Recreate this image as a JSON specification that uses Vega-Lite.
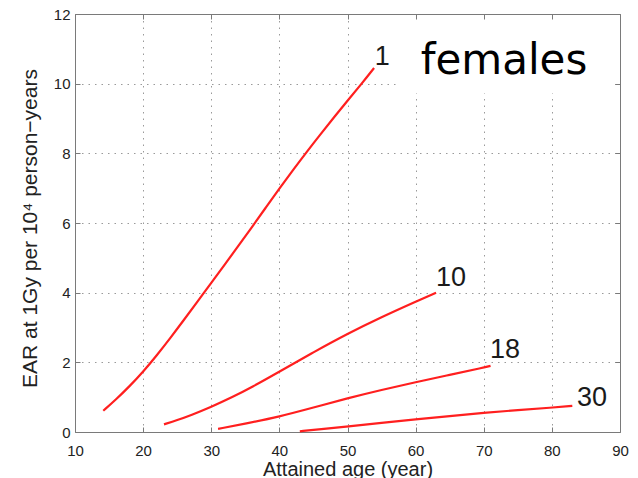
{
  "$schema": "https://vega.github.io/schema/vega-lite/v6.json",
  "width": 545,
  "height": 418,
  "autosize": {"type": "none"},
  "padding": {"left": 75, "top": 14, "right": 18, "bottom": 46},
  "background": "white",
  "config": {
    "view": {"stroke": null},
    "font": "Liberation Sans"
  },
  "datasets": {
    "curves": [
      {"exposure": "1", "age": 14.15, "ear": 0.61},
      {"exposure": "1", "age": 16, "ear": 0.93},
      {"exposure": "1", "age": 18, "ear": 1.31},
      {"exposure": "1", "age": 20, "ear": 1.73},
      {"exposure": "1", "age": 22, "ear": 2.2},
      {"exposure": "1", "age": 24, "ear": 2.7},
      {"exposure": "1", "age": 26, "ear": 3.22},
      {"exposure": "1", "age": 28, "ear": 3.75},
      {"exposure": "1", "age": 30, "ear": 4.28},
      {"exposure": "1", "age": 32, "ear": 4.81},
      {"exposure": "1", "age": 34, "ear": 5.35},
      {"exposure": "1", "age": 36, "ear": 5.89},
      {"exposure": "1", "age": 38, "ear": 6.44},
      {"exposure": "1", "age": 40, "ear": 6.99},
      {"exposure": "1", "age": 42, "ear": 7.52},
      {"exposure": "1", "age": 44, "ear": 8.04},
      {"exposure": "1", "age": 46, "ear": 8.54},
      {"exposure": "1", "age": 48, "ear": 9.03},
      {"exposure": "1", "age": 50, "ear": 9.51},
      {"exposure": "1", "age": 52, "ear": 9.98},
      {"exposure": "1", "age": 53.9, "ear": 10.45},
      {"exposure": "10", "age": 23.06, "ear": 0.22},
      {"exposure": "10", "age": 25, "ear": 0.34},
      {"exposure": "10", "age": 27, "ear": 0.48},
      {"exposure": "10", "age": 30, "ear": 0.72},
      {"exposure": "10", "age": 33, "ear": 0.99},
      {"exposure": "10", "age": 36, "ear": 1.29},
      {"exposure": "10", "age": 40, "ear": 1.73},
      {"exposure": "10", "age": 45, "ear": 2.29},
      {"exposure": "10", "age": 50, "ear": 2.82},
      {"exposure": "10", "age": 55, "ear": 3.3},
      {"exposure": "10", "age": 60, "ear": 3.74},
      {"exposure": "10", "age": 63, "ear": 4.0},
      {"exposure": "18", "age": 31.0, "ear": 0.09},
      {"exposure": "18", "age": 35, "ear": 0.24},
      {"exposure": "18", "age": 40, "ear": 0.44},
      {"exposure": "18", "age": 45, "ear": 0.7},
      {"exposure": "18", "age": 50, "ear": 0.97},
      {"exposure": "18", "age": 55, "ear": 1.21},
      {"exposure": "18", "age": 60, "ear": 1.43},
      {"exposure": "18", "age": 65, "ear": 1.64},
      {"exposure": "18", "age": 70, "ear": 1.85},
      {"exposure": "18", "age": 71, "ear": 1.9},
      {"exposure": "30", "age": 43, "ear": 0.02},
      {"exposure": "30", "age": 46, "ear": 0.08},
      {"exposure": "30", "age": 50, "ear": 0.16},
      {"exposure": "30", "age": 55, "ear": 0.26},
      {"exposure": "30", "age": 60, "ear": 0.36},
      {"exposure": "30", "age": 65, "ear": 0.46},
      {"exposure": "30", "age": 70, "ear": 0.55},
      {"exposure": "30", "age": 75, "ear": 0.63},
      {"exposure": "30", "age": 80, "ear": 0.7},
      {"exposure": "30", "age": 83, "ear": 0.75}
    ],
    "labels": [
      {"label": "1", "x": 54.0, "y": 10.55},
      {"label": "10", "x": 63.0, "y": 4.2},
      {"label": "18", "x": 70.9, "y": 2.12},
      {"label": "30", "x": 83.7, "y": 0.75}
    ],
    "panel": [
      {"x1": 57.2, "x2": 88.9, "y1": 9.72, "y2": 11.97, "text": "females", "tx": 72.97, "ty": 10.28}
    ]
  },
  "layer": [
    {
      "data": {"name": "curves"},
      "mark": {"type": "line", "color": "#ff1f1f", "strokeWidth": 2.2, "interpolate": "basis"},
      "encoding": {
        "x": {
          "field": "age", "type": "quantitative",
          "scale": {"domain": [10, 90], "nice": false, "zero": false},
          "axis": {
            "orient": "bottom", "title": "Attained age (year)",
            "values": [10, 20, 30, 40, 50, 60, 70, 80, 90],
            "grid": true, "gridColor": "#9a9a9a", "gridDash": [1.5, 5], "gridWidth": 1,
            "tickSize": -5, "tickColor": "#7a7a7a", "domainColor": "#7a7a7a",
            "labelPadding": 28, "labelBaseline": "alphabetic", "labelFlush": false, "labelOverlap": false,
            "labelFontSize": 15, "labelColor": "#222222",
            "titleFontSize": 20, "titleColor": "#222222", "titleFontWeight": "normal",
            "titleBaseline": "alphabetic", "titleY": 43, "zindex": 0
          }
        },
        "y": {
          "field": "ear", "type": "quantitative",
          "scale": {"domain": [0, 12], "nice": false},
          "axis": {
            "orient": "left", "title": "EAR at 1Gy per 10⁴ person−years",
            "values": [0, 2, 4, 6, 8, 10, 12],
            "grid": true, "gridColor": "#9a9a9a", "gridDash": [1.5, 5], "gridWidth": 1,
            "tickSize": -5, "tickColor": "#7a7a7a", "domainColor": "#7a7a7a",
            "labelPadding": 10, "labelFlush": false, "labelOverlap": false,
            "labelFontSize": 15, "labelColor": "#222222",
            "titleFontSize": 21, "titleColor": "#222222", "titleFontWeight": "normal",
            "titleAngle": 270, "titleBaseline": "bottom", "titleX": -35, "titleY": 214, "zindex": 0
          }
        },
        "detail": {"field": "exposure"},
        "order": {"field": "age"}
      }
    },
    {
      "data": {"name": "panel"},
      "mark": {"type": "rect", "fill": "white", "stroke": null},
      "encoding": {
        "x": {"field": "x1", "type": "quantitative", "scale": {"domain": [10, 90], "nice": false, "zero": false}, "axis": null},
        "x2": {"field": "x2"},
        "y": {"field": "y1", "type": "quantitative", "scale": {"domain": [0, 12], "nice": false}, "axis": null},
        "y2": {"field": "y2"}
      }
    },
    {
      "data": {"name": "panel"},
      "mark": {"type": "text", "font": "DejaVu Sans", "fontSize": 42, "align": "center", "baseline": "alphabetic", "color": "#000000"},
      "encoding": {
        "x": {"field": "tx", "type": "quantitative", "scale": {"domain": [10, 90], "nice": false, "zero": false}, "axis": null},
        "y": {"field": "ty", "type": "quantitative", "scale": {"domain": [0, 12], "nice": false}, "axis": null},
        "text": {"field": "text"}
      }
    },
    {
      "data": {"name": "labels"},
      "mark": {"type": "text", "fontSize": 27, "align": "left", "baseline": "alphabetic", "color": "#1a1a1a"},
      "encoding": {
        "x": {"field": "x", "type": "quantitative", "scale": {"domain": [10, 90], "nice": false, "zero": false}, "axis": null},
        "y": {"field": "y", "type": "quantitative", "scale": {"domain": [0, 12], "nice": false}, "axis": null},
        "text": {"field": "label"}
      }
    },
    {
      "data": {"name": "curves"},
      "mark": {"type": "point", "opacity": 0},
      "encoding": {
        "x": {
          "field": "age", "type": "quantitative",
          "scale": {"domain": [10, 90], "nice": false, "zero": false},
          "axis": {
            "orient": "top", "title": null, "labels": false, "grid": false,
            "values": [10, 20, 30, 40, 50, 60, 70, 80, 90],
            "tickSize": -5, "tickColor": "#7a7a7a", "domainColor": "#7a7a7a", "zindex": 1
          }
        },
        "y": {
          "field": "ear", "type": "quantitative",
          "scale": {"domain": [0, 12], "nice": false},
          "axis": {
            "orient": "right", "title": null, "labels": false, "grid": false,
            "values": [0, 2, 4, 6, 8, 10, 12],
            "tickSize": -5, "tickColor": "#7a7a7a", "domainColor": "#7a7a7a", "zindex": 1
          }
        }
      }
    }
  ],
  "resolve": {"axis": {"x": "independent", "y": "independent"}}
}
